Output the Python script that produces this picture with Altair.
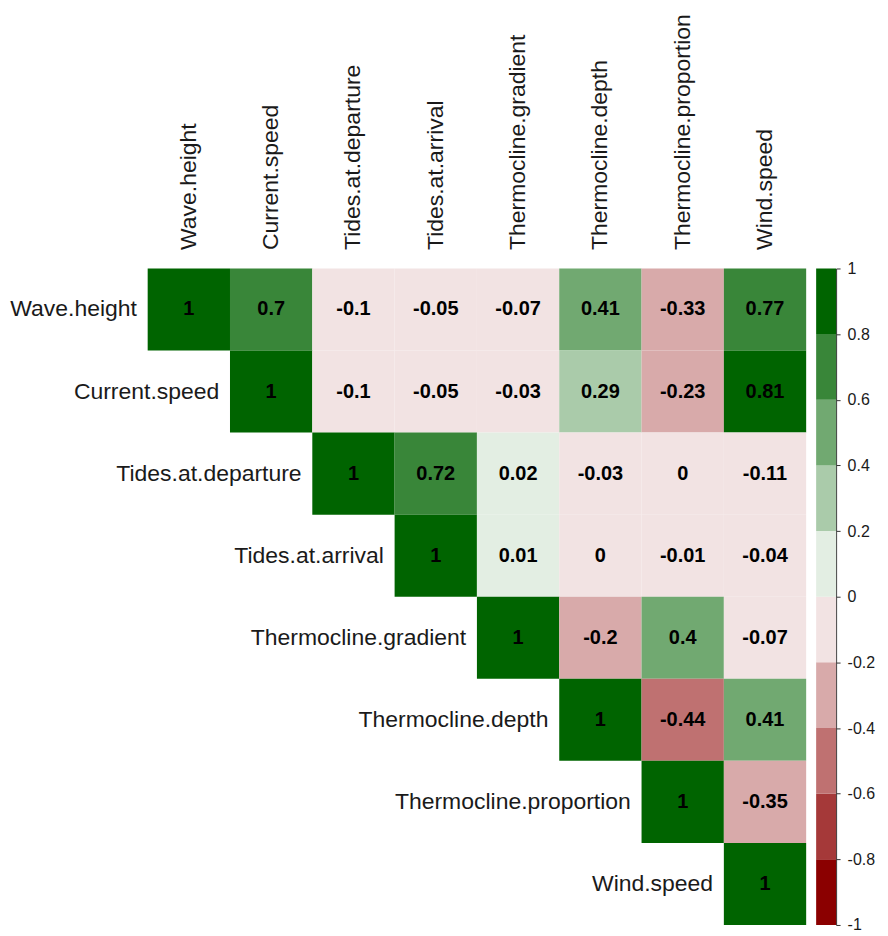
import altair as alt
import pandas as pd

variables = ["Wave.height", "Current.speed", "Tides.at.departure", "Tides.at.arrival",
             "Thermocline.gradient", "Thermocline.depth", "Thermocline.proportion", "Wind.speed"]

# upper-triangle correlations, each row starts at the diagonal
row_wave_height = [1, 0.7, -0.1, -0.05, -0.07, 0.41, -0.33, 0.77]
row_current_speed = [1, -0.1, -0.05, -0.03, 0.29, -0.23, 0.81]
row_tides_departure = [1, 0.72, 0.02, -0.03, -0.004, -0.11]
row_tides_arrival = [1, 0.01, -0.003, -0.01, -0.04]
row_thermo_gradient = [1, -0.204, 0.404, -0.07]
row_thermo_depth = [1, -0.44, 0.41]
row_thermo_proportion = [1, -0.35]
row_wind_speed = [1]

rows = [row_wave_height, row_current_speed, row_tides_departure, row_tides_arrival,
        row_thermo_gradient, row_thermo_depth, row_thermo_proportion, row_wind_speed]

legend_ticks = [1, 0.8, 0.6, 0.4, 0.2, 0, -0.2, -0.4, -0.6, -0.8, -1]
bin_lo = [-1, -0.8, -0.6, -0.4, -0.2, 0, 0.2, 0.4, 0.6, 0.8]
bin_hi = [-0.8, -0.6, -0.4, -0.2, 0, 0.2, 0.4, 0.6, 0.8, 1]

palette = ["#8B0000", "#A53939", "#BF7171", "#D8AAAA", "#F2E3E3",
           "#E3EEE3", "#AACBAA", "#71A971", "#398639", "#006400"]
thresholds = [-0.8, -0.6, -0.4, -0.2, 0, 0.2, 0.4, 0.6, 0.8]

recs = []
for i, vals in enumerate(rows):
    for k, v in enumerate(vals):
        j = i + k
        recs.append({"row": variables[i], "col": variables[j], "r": v,
                     "label": f"{round(v, 2) + 0.0:g}"})
cells = pd.DataFrame(recs)
labels_df = pd.DataFrame({"row": variables, "col": variables, "name": variables})

color_scale = alt.Scale(type="threshold", domain=thresholds, range=palette)
FONT = "Liberation Sans"

xenc = alt.X("col:N", sort=variables, scale=alt.Scale(paddingInner=0, paddingOuter=0),
             axis=alt.Axis(orient="top", title=None, labelAngle=-90, ticks=False, domain=False,
                           labelFontSize=23, labelFont=FONT, labelColor="#1a1a1a",
                           labelPadding=19, labelLimit=400))
yenc = alt.Y("row:N", sort=variables, scale=alt.Scale(paddingInner=0, paddingOuter=0), axis=None)

rects = alt.Chart(cells).mark_rect().encode(
    x=xenc, y=yenc,
    color=alt.Color("r:Q", scale=color_scale, legend=None),
)
nums = alt.Chart(cells).mark_text(font=FONT, fontSize=20, fontWeight="bold", color="black").encode(
    x=alt.X("col:N", sort=variables), y=alt.Y("row:N", sort=variables), text="label:N"
)
names = alt.Chart(labels_df).mark_text(font=FONT, fontSize=23, align="right", baseline="middle",
                                       dx=-52, color="#1a1a1a").encode(
    x=alt.X("col:N", sort=variables), y=alt.Y("row:N", sort=variables), text="name:N"
)
main = alt.layer(rects, nums, names).properties(width=660, height=658)

bins = pd.DataFrame({"lo": bin_lo, "hi": bin_hi})
bins["mid"] = (bins["lo"] + bins["hi"]) / 2
bar = alt.Chart(bins).mark_rect().encode(
    x=alt.value(0), x2=alt.value(20),
    y=alt.Y("lo:Q", scale=alt.Scale(domain=[-1, 1], nice=False),
            axis=alt.Axis(orient="right", title=None, values=legend_ticks, grid=False,
                          labelExpr="replace(datum.label, '\u2212', '-')", format="~g",
                          tickSize=4, tickColor="#333", domainColor="#333",
                          labelFontSize=16, labelFont=FONT, labelColor="#1a1a1a",
                          labelPadding=7)),
    y2="hi:Q",
    color=alt.Color("mid:Q", scale=color_scale, legend=None),
).properties(width=20, height=658)

chart = alt.hconcat(main, bar, spacing=10, bounds="flush").resolve_scale(color="independent").configure_view(
    stroke=None
).properties(padding={"left": 2, "top": 4, "right": 5, "bottom": 5})

chart.save("out.html", embed_options={"renderer": "svg", "actions": False})
